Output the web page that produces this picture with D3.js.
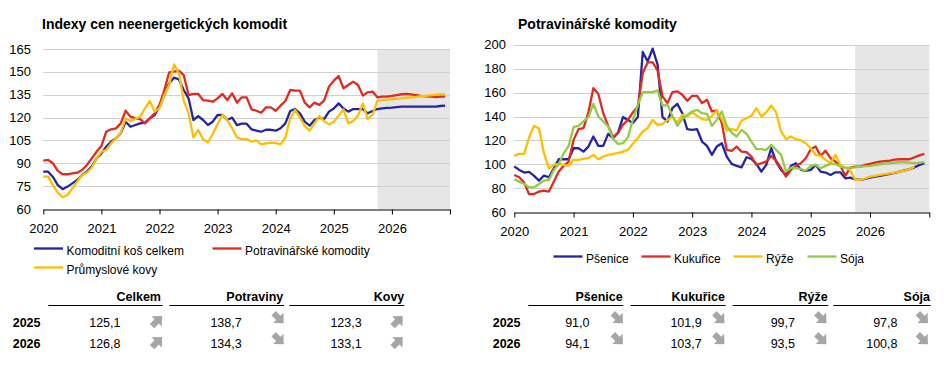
<!DOCTYPE html>
<html><head><meta charset="utf-8">
<script src="https://cdn.jsdelivr.net/npm/d3@7"></script>
<style>
body{margin:0;background:#fff;}
svg{display:block;font-family:"Liberation Sans",Arial,sans-serif;}
</style></head><body>
<svg id="c" width="950" height="366"></svg>
<script>
// ---------- DATA ----------
const yearTicks = [2020, 2021, 2022, 2023, 2024, 2025, 2026, 2027];
const forecastStart = 2025.75; // Oct 2025

// Left chart: monthly Jan 2020 .. Dec 2026
const celkem = [
  84.5, 84.5, 81, 75.7, 73, 74.7, 76.8, 79, 82.3, 84.5, 87.8, 93.2,
  96.5, 100.9, 104.2, 106.4, 109.7, 117.3, 114, 115.1, 116.2, 116.7, 119.5, 121.7,
  127.2, 134.8, 142.5, 146.2, 145.1, 138.1, 132.6, 118.4, 121, 118.4, 115.1, 117.3,
  121.7, 121.7, 118.4, 120, 115, 116, 116, 112.3, 111.5, 110.7, 112, 112,
  111.4, 113, 116.2, 124.3, 125.6, 122.8, 117.3, 114.7, 118.4, 119.9, 119, 123.9,
  126, 129.3, 126, 123.9, 125.6, 125.6, 125.6, 122.8, 124.3, 125.6, 126, 126.4,
  126.5, 126.9, 127.2, 127.2, 127.2, 127.2, 127.2, 127.2, 127.2, 127.2, 127.6, 127.8
];
const potraviny = [
  91.7, 92.2, 90, 85, 82.8, 82.8, 83.4, 83.8, 85.6, 88.9, 93.2, 97.6,
  101.3, 110.7, 112.3, 112.9, 116.2, 124.5, 120.6, 119.5, 119, 116.2, 119.5, 122.8,
  128.3, 138.1, 149.7, 150.1, 150.8, 147.9, 134.8, 135.5, 135.5, 131.5, 131.1, 130.4,
  132.6, 135.5, 131.5, 135.9, 129.8, 133.3, 133.3, 125.4, 124.5, 123.2, 126.7, 126.7,
  124.5, 127.8, 130.9, 138.1, 137.7, 137.7, 129.8, 126.7, 129.8, 128.3, 131.1, 140.3,
  144.2, 147.3, 139.2, 141.4, 143.6, 141.4, 134.4, 136.6, 137.1, 133.3, 133.7, 133.7,
  134.2, 134.8, 135.3, 135.5, 135.2, 134.8, 134.3, 133.9, 133.7, 133.5, 133.7, 133.7
];
const kovy = [
  81.2, 81.2, 75.7, 70.7, 67.7, 69.2, 73.6, 77.9, 82.3, 83.8, 87.1, 93.2,
  97.6, 98.7, 103.1, 106.4, 110.1, 119.5, 117.7, 119, 120.6, 126.1, 130.9, 123.9,
  126.1, 134.8, 141.4, 154.9, 149, 131.5, 122.8, 107, 111.8, 105.7, 103.8, 109.2,
  115.8, 121.7, 118.4, 113, 107, 105.9, 105.9, 104.2, 105, 102.4, 103, 103.5,
  103.3, 102.6, 106.8, 119.5, 125, 120, 114.5, 111.4, 116, 121, 117.7, 115.5,
  117.2, 121.3, 125.4, 116.2, 117.7, 121.2, 129.3, 119, 121.7, 130.9, 131.5, 131.8,
  132, 132.3, 132.6, 133, 133.3, 133.6, 134, 134.3, 134.6, 134.9, 135.2, 135.3
];

// Right chart: monthly Jan 2020 .. Dec 2026 (rice ends Oct 2026)
const psenice = [
  98.2, 95.4, 93.2, 93.7, 90.4, 86.5, 90.7, 89.3, 96.8, 104.3, 104.3, 104.3,
  113.5, 113.5, 110.7, 114.9, 123.3, 115.5, 115.5, 125.5, 121.9, 126.6, 139.5, 137.2,
  134.5, 139.5, 193.9, 186, 196.7, 183.3, 139.5, 135.9, 147, 150.6, 142.8, 129.4,
  128.9, 129.4, 119.1, 115.5, 108, 115, 117.7, 106.6, 100.4, 98.8, 97.6, 106,
  104.6, 100.4, 94, 99.6, 113.5, 102.4, 95.4, 91.2, 98.8, 101, 95.4, 94.6,
  95.4, 99.6, 94, 93.2, 91.2, 93.4, 93.4, 88.4, 89, 87.5, 87, 88,
  89, 89.8, 90.5, 91.3, 92.2, 93, 94, 95, 96, 97.5, 99.5, 100.8
];
const kukurice = [
  91.2, 89.3, 84.8, 75.1, 75.3, 77.3, 78.1, 77.3, 85.6, 94, 98.8, 102.4,
  120.5, 129.4, 130.3, 143.4, 163.7, 159, 142.8, 132.2, 122.7, 126.1, 133.1, 137.2,
  143.4, 148.4, 176.3, 185.2, 185.2, 178.5, 156.8, 151.2, 160.4, 161, 158.2, 153.1,
  157.3, 157.3, 151.2, 154, 144.2, 145.1, 134.5, 112.1, 111.3, 114.9, 110.7, 110.2,
  106.6, 99.6, 101, 102.4, 107.1, 103.2, 96.8, 89.8, 95.4, 98.8, 101, 105.2,
  112.7, 114.9, 107.1, 111.5, 105.2, 102.4, 98.8, 90.5, 97.3, 98.2, 98.2, 99.6,
  100.4, 101.5, 102.4, 102.8, 103.2, 104, 104.3, 104.3, 104.3, 106, 107.5, 108.8
];
const ryze = [
  107.1, 108.8, 108.8, 122.7, 132.2, 130, 109.4, 96.8, 99.6, 100.4, 99.6, 99,
  103.8, 103.8, 104.6, 105.2, 108, 104.3, 106.6, 108, 108.8, 109.4, 110.7, 112.1,
  117.2, 121.9, 127.5, 130.3, 137.2, 132.8, 133.7, 137.2, 139.5, 135, 141.4, 140,
  143.4, 140.6, 137.8, 137.2, 140.6, 145.1, 137.8, 128.3, 129.4, 128.3, 136.7, 138.6,
  140.6, 147, 140, 143.4, 149.2, 143.4, 127.5, 121.1, 123.3, 121.1, 120, 117.7,
  113.5, 108, 107.1, 103.8, 101, 108, 99.6, 97.3, 95.4, 87, 87, 88.4,
  89.8, 90.5, 91.2, 91.8, 92.5, 93.2, 94, 94.9, 96, 98
];
const soja = [
  87.6, 85.6, 83.7, 80.9, 80.9, 83.7, 86.5, 87, 95.4, 100.4, 109.4, 115.5,
  131.1, 132.2, 135.9, 139.5, 150.6, 140, 135.9, 131.7, 121.1, 117.2, 117.7, 122.7,
  137.2, 149.8, 160.4, 160.4, 160.4, 161.8, 149, 149.8, 140.6, 132.2, 137.8, 141.4,
  144.2, 145.6, 142.8, 142.3, 132.2, 137.2, 144.2, 132.2, 126.6, 123.3, 128.9, 125.5,
  119.1, 112.7, 112.7, 112.1, 116.3, 112.1, 108, 94, 97.4, 96.8, 96, 94.9,
  98.8, 99.6, 96.8, 98.8, 100.4, 100.4, 98.2, 97.4, 97.3, 97.6, 98.2, 98.5,
  98.8, 99.5, 100.1, 100.6, 101, 101.4, 101.8, 101.8, 101.5, 101, 101.5, 102
];

// Tables
const tableLHeads = ["Celkem", "Potraviny", "Kovy"];
const tableL2025 = [125.1, 138.7, 123.3];
const tableL2026 = [126.8, 134.3, 133.1];
const tableLDir2025 = ["up", "down", "up"];
const tableLDir2026 = ["up", "down", "up"];
const tableRHeads = ["Pšenice", "Kukuřice", "Rýže", "Sója"];
const tableR2025 = [91.0, 101.9, 99.7, 97.8];
const tableR2026 = [94.1, 103.7, 93.5, 100.8];
const tableRDir2025 = ["down", "down", "down", "down"];
const tableRDir2026 = ["down", "down", "down", "down"];
const rowYears = ["2025", "2026"];

// ---------- DRAWING ----------
const C = {blue: "#2424a4", red: "#e02a22", yellow: "#ffbf00", green: "#92cc44"};
const svg = d3.select("#c");
const fmt = d3.formatLocale({decimal: ",", thousands: " ", grouping: [3], currency: ["", ""]}).format(".1f");

function drawChart(o) {
  const g = svg.append("g");
  const x = d3.scaleLinear().domain([2020, 2027]).range([o.x0, o.x1]);
  const y = d3.scaleLinear().domain([o.yMin, o.yMax]).range([o.yBot, o.yTop]);
  g.append("text").attr("x", o.titleX).attr("y", 29).attr("font-size", 14)
    .attr("font-weight", "bold").text(o.title);
  g.append("rect").attr("x", x(forecastStart)).attr("y", y(o.yMax))
    .attr("width", x(2027) - x(forecastStart)).attr("height", y(o.yMin) - y(o.yMax))
    .attr("fill", "#e6e6e6");
  const ticks = d3.range(o.yMin, o.yMax + 0.001, o.yStep);
  g.selectAll(".grid").data(ticks.slice(1)).join("line")
    .attr("x1", o.x0).attr("x2", o.x1)
    .attr("y1", d => Math.round(y(d)) + 0.5).attr("y2", d => Math.round(y(d)) + 0.5)
    .attr("stroke", "#d0d0d0").attr("stroke-width", 1);
  g.selectAll(".ylab").data(ticks).join("text")
    .attr("x", o.labelX).attr("y", d => y(d) + 4.6).attr("text-anchor", "end")
    .attr("font-size", 13).text(d => d);
  const ax = g.append("g").attr("transform", `translate(0,${Math.round(o.yBot) + 0.5})`)
    .call(d3.axisBottom(x).tickValues(yearTicks).tickSize(5).tickSizeOuter(0).tickPadding(9)
      .tickFormat(d => d < 2027 ? d : ""));
  ax.select(".domain").attr("stroke", "#000");
  ax.selectAll(".tick line").attr("stroke", "#000");
  ax.selectAll(".tick text").attr("font-size", 13).attr("fill", "#000")
    .attr("font-family", '"Liberation Sans",Arial,sans-serif');
  const line = d3.line().x((d, i) => x(2020 + i / 12)).y(d => y(d));
  o.series.forEach(s => {
    g.append("path").attr("d", line(s.v)).attr("fill", "none").attr("stroke", s.c)
      .attr("stroke-width", 2.3).attr("stroke-linejoin", "round");
  });
}

drawChart({x0: 43.3, x1: 450, yTop: 49, yBot: 209, yMin: 60, yMax: 165, yStep: 15,
  title: "Indexy cen neenergetických komodit", titleX: 42, labelX: 31,
  series: [{v: celkem, c: C.blue}, {v: potraviny, c: C.red}, {v: kovy, c: C.yellow}]});
drawChart({x0: 514.3, x1: 929.3, yTop: 44.7, yBot: 212.3, yMin: 60, yMax: 200, yStep: 20,
  title: "Potravinářské komodity", titleX: 518, labelX: 506,
  series: [{v: psenice, c: C.blue}, {v: kukurice, c: C.red}, {v: ryze, c: C.yellow}, {v: soja, c: C.green}]});

// Legends
function legendItem(x, y, color, label) {
  svg.append("line").attr("x1", x).attr("x2", x + 29).attr("y1", y).attr("y2", y)
    .attr("stroke", color).attr("stroke-width", 2.3);
  svg.append("text").attr("x", x + 32.5).attr("y", y + 6.5).attr("font-size", 12).text(label);
}
legendItem(34, 248.5, C.blue, "Komoditní koš celkem");
legendItem(212.5, 248.5, C.red, "Potravinářské komodity");
legendItem(34, 267.5, C.yellow, "Průmyslové kovy");
legendItem(553.5, 256.5, C.blue, "Pšenice");
legendItem(641.5, 256.5, C.red, "Kukuřice");
legendItem(733.5, 256.5, C.yellow, "Rýže");
legendItem(807.5, 256.5, C.green, "Sója");

// Tables
const arrowPts = [[-6, -2.8], [0, -2.8], [0, -6.6], [7, 0], [0, 6.6], [0, 2.8], [-6, 2.8]];
function arrow(cx, cy, dir) {
  svg.append("path").attr("d", d3.line()(arrowPts) + "Z")
    .attr("transform", `translate(${cx},${cy}) rotate(${dir === "up" ? -45 : 45}) scale(1.1)`)
    .attr("fill", "#a6a6a6");
}
function drawTable(o) {
  o.heads.forEach((h, i) => {
    svg.append("text").attr("x", o.headEnd[i]).attr("y", 300.7).attr("text-anchor", "end")
      .attr("font-size", 12.5).attr("font-weight", "bold").text(h);
    svg.append("line").attr("x1", o.ul[i][0]).attr("x2", o.ul[i][1]).attr("y1", 305.5).attr("y2", 305.5)
      .attr("stroke", "#000").attr("stroke-width", 1.2);
  });
  [o.r1, o.r2].forEach((row, r) => {
    const by = 326.7 + r * 21;
    svg.append("text").attr("x", o.yearX).attr("y", by).attr("font-size", 12.5)
      .attr("font-weight", "bold").text(rowYears[r]);
    row.forEach((v, i) => {
      svg.append("text").attr("x", o.valEnd[i]).attr("y", by).attr("text-anchor", "end")
        .attr("font-size", 12.5).text(fmt(v));
      const dir = (r === 0 ? o.d1 : o.d2)[i];
      arrow(o.arrX[i], by - (dir === "up" ? 5.3 : 8.8), dir);
    });
  });
}
drawTable({heads: tableLHeads, r1: tableL2025, r2: tableL2026, d1: tableLDir2025, d2: tableLDir2026,
  headEnd: [161, 283.3, 404.3], ul: [[48.3, 162.7], [169.3, 284], [289.3, 404.3]],
  yearX: 12.7, valEnd: [120.5, 241.7, 361.7], arrX: [156.7, 278.3, 397.3]});
drawTable({heads: tableRHeads, r1: tableR2025, r2: tableR2026, d1: tableRDir2025, d2: tableRDir2026,
  headEnd: [622.7, 725, 827.7, 930], ul: [[528.3, 623.3], [630.7, 725.7], [732.7, 828.3], [833.3, 930.7]],
  yearX: 492.7, valEnd: [589.5, 701.7, 795, 897.5], arrX: [617.5, 719, 821, 922.5]});
</script></body></html>
